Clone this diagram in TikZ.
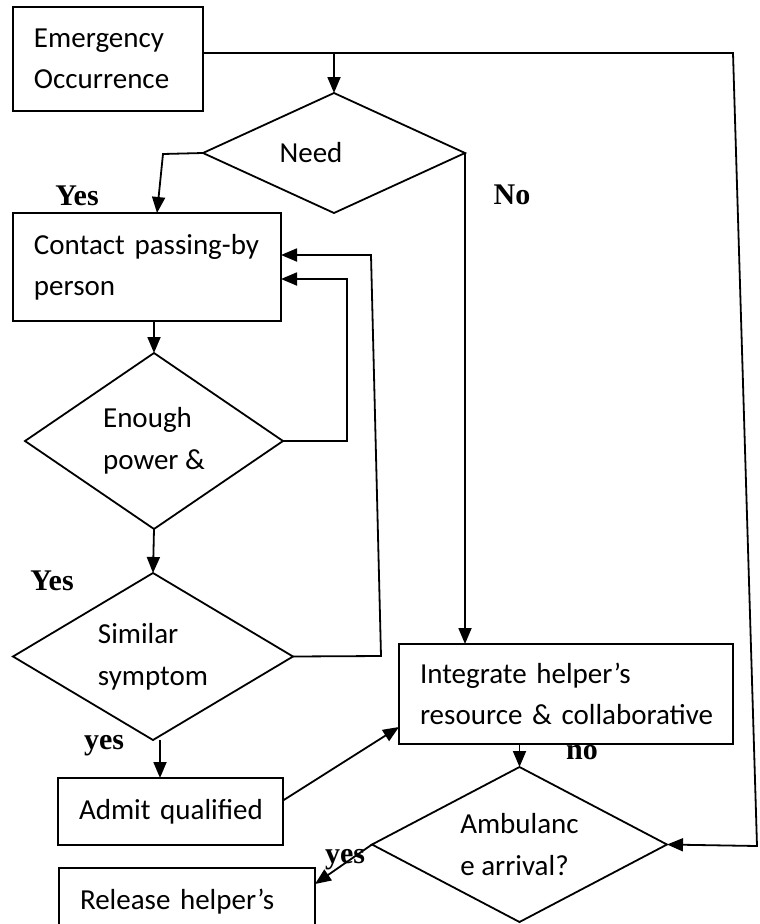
\documentclass[tikz,border=0pt]{standalone}
\usepackage{fontspec}
\setmainfont{Carlito}
\newfontfamily\lblfont{Liberation Serif}
\usetikzlibrary{arrows.meta,positioning,shapes.geometric}

\begin{document}
\begin{tikzpicture}[->,>={Triangle[length=16pt,width=13pt]},x=1pt,y=-1pt,line width=1.8pt]
\tikzstyle{box}=[draw,rectangle,inner xsep=21pt,inner ysep=2pt,outer sep=0pt,align=left,font=\fontsize{29}{41}\selectfont]
\tikzstyle{choice}=[draw,diamond,aspect=2,inner sep=0pt,outer sep=0pt,align=left,font=\fontsize{29}{42}\selectfont]
\tikzstyle{answer}=[font=\lblfont\bfseries\fontsize{30}{35}\selectfont]

\fill[white,-] (0,0) rectangle (760,924);
\useasboundingbox (0,0) rectangle (760,924);

\node[box,text width=148pt,minimum height=104pt] (E) at (108,59) {\mbox{Emergency}\\\mbox{Occurrence}};
\node[choice,minimum width=262pt,minimum height=120pt] (N) at (334,153) {Need\hspace*{46pt}};
\node[box,text width=226pt,minimum height=108pt] (C) at (147,267) {\mbox{Contact passing-by}\\\mbox{person}};
\node[choice,minimum width=258pt,minimum height=176pt] (P) at (154,441) {Enough\\power \&};
\node[choice,minimum width=280pt,minimum height=167pt] (S) at (153,656.5) {Similar\\symptom};
\node[box,text width=183pt,minimum height=67pt] (Q) at (170.5,811.5) {\mbox{Admit qualified}};
\node[box,text width=292pt,minimum height=100pt] (I) at (566,694) {\mbox{Integrate helper’s}\\\mbox{resource \& collaborative}};
\node[choice,minimum width=295pt,minimum height=155pt] (A) at (519.5,844.5) {Ambulanc\\e arrival?};
\node[box,text width=214pt,minimum height=67pt] (R) at (187,901.5) {\mbox{Release helper’s}};

\node[answer] (y1) at (77,196) {Yes};
\node[answer] (n1) at (512,195) {No};
\node[answer] (y2) at (52,581) {Yes};
\node[answer] (y3) at (104,746) {yes};
\node[answer] (n2) at (582,753) {no};
\node[answer] (y4) at (345,860) {yes};

\coordinate (T) at (733,53);
\coordinate (U) at (757,846);
\coordinate (B) at (163,154);
\coordinate (V) at (381,656);
\coordinate (W) at (371,255);

\draw ([yshift=6pt]E.east) -- (T) -- (U) -- (A.east);
\draw (N.north |- T) -- (N.north);
\draw (N.west) -- (B) -- ([xshift=10pt]C.north);
\draw (N.east) -- (N.east |- I.north);
\draw (P.north |- C.south) -- (P.north);
\draw (P.east) -- ++(64,0) |- ([yshift=-12pt]C.east);
\draw (P.south) -- (S.north);
\draw (S.east) -- (V) -- (W) -- ([yshift=12pt]C.east);
\draw ([xshift=7pt]S.south) -- ([xshift=7pt]S.south |- Q.north);
\draw ([yshift=11pt]Q.east) -- ([yshift=17pt]I.south west);
\draw (A.north |- I.south) -- (A.north);
\draw (A.west) -- ([yshift=-16pt]R.north east);
    \end{tikzpicture}
\end{document}
